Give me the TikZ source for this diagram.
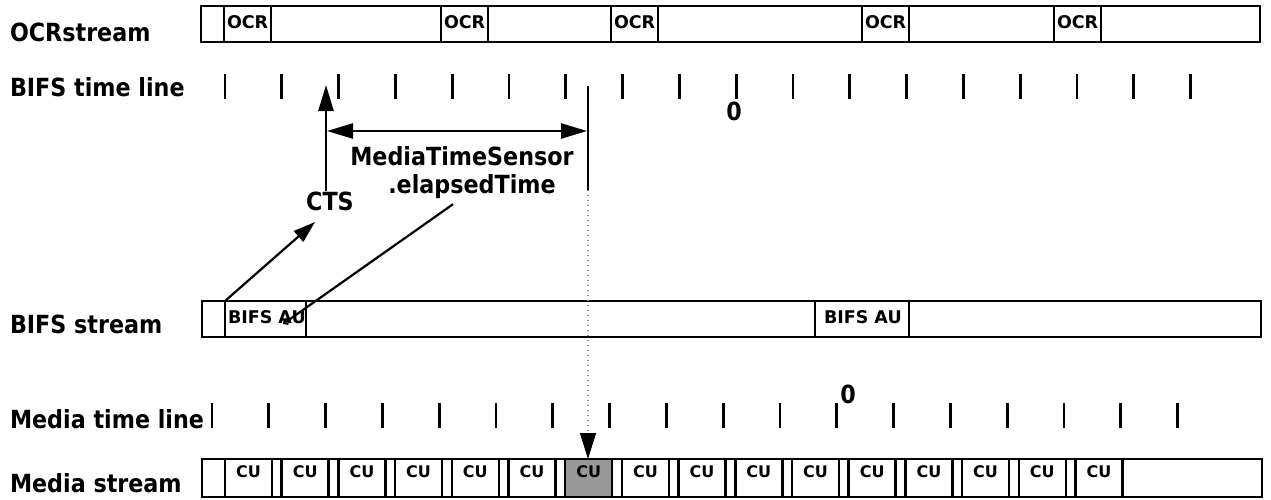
\documentclass[tikz,border=0pt]{standalone}
\usepackage{fontspec}
\setmainfont{DejaVu Sans}
\newfontfamily\narrowsans{DejaVu Sans}[FakeStretch=0.89]
\usetikzlibrary{arrows.meta}
\definecolor{cugray}{RGB}{152,152,152}
\definecolor{dotgray}{RGB}{140,140,140}

\begin{document}
\begin{tikzpicture}[x=1pt, y=-1pt,
  big/.style={font=\narrowsans\bfseries\fontsize{25}{29}\selectfont, inner sep=0, outer sep=0},
  rowlabel/.style={big, anchor=base west},
  tag/.style={font=\bfseries\fontsize{17.5}{20}\selectfont, inner sep=0, outer sep=0, anchor=base west},
  cutag/.style={font=\bfseries\fontsize{16}{19}\selectfont, inner sep=0, outer sep=0, anchor=base},
  frame/.style={draw, line width=2.5pt, inner sep=0, outer sep=0, anchor=north west},
  tick/.style={line width=2.8pt},
  arr/.style={line width=2.5pt, -{Triangle[length=26pt,width=15pt]}},
  darr/.style={line width=2.5pt, {Triangle[length=26pt,width=15pt]}-{Triangle[length=26pt,width=15pt]}},
  dots/.style={dotgray, line width=1.4pt, dash pattern=on 1.4pt off 3.6pt},
]
\useasboundingbox (0,0) rectangle (1271,499);

% row labels
\node[rowlabel] (lOCR)   at (10,41)  {OCRstream};
\node[rowlabel] (lBTL)   at (10,96)  {BIFS time line};
\node[rowlabel] (lBS)    at (10,333) {BIFS stream};
\node[rowlabel] (lMTL)   at (10,428) {Media time line};
\node[rowlabel] (lMS)    at (10,492) {Media stream};

% OCR stream with its OCR packets
\node[frame, minimum width=1059pt, minimum height=36pt] (ocrstream) at (201,6) {};
\foreach \x [count=\i] in {224,441,611,862,1054} {
  \node[frame, minimum width=47pt, minimum height=36pt] (ocr\i) at (\x,6) {};
  \node[tag] at ([xshift=3pt,yshift=-22pt]ocr\i.north west) {OCR};
}

% BIFS time line
\foreach \i in {0,...,17} {
  \draw[tick] ({225+\i*56.8},74) -- ++(0,25);
}
\node[big] (zeroB) at (734,111) {0};

% elapsed time marker
\coordinate (elTop) at (588,86);
\coordinate (elBot) at (588,190);
\draw[tick] (elTop) -- (elBot);

% CTS
\node[big, anchor=base] (cts) at (330,210) {CTS};
\coordinate (ctsTip) at (326,85);
\draw[arr] (cts.north -| ctsTip) -- (ctsTip);

% MediaTimeSensor.elapsedTime span
\coordinate (spanL) at (327,131);
\coordinate (spanR) at (587,131);
\draw[darr] (spanL) -- (spanR);
\node[big, anchor=base] (mts) at (462,165) {MediaTimeSensor};
\node[big, anchor=base] (elt) at (472,193) {.elapsedTime};

% BIFS stream with its access units
\node[frame, minimum width=1059pt, minimum height=36pt] (bifsstream) at (202,301) {};
\node[frame, minimum width=81pt, minimum height=36pt] (au1) at (225,301) {};
\node[tag] at ([xshift=3pt,yshift=-22pt]au1.north west) {BIFS AU};
\node[frame, minimum width=94pt, minimum height=36pt] (au2) at (815,301) {};
\node[tag] at ([xshift=9pt,yshift=-22pt]au2.north west) {BIFS AU};

% links from the first access unit
\coordinate (ctsFoot) at (315,222);
\draw[line width=2.2pt, -{Triangle[length=22pt,width=14pt]}] (au1.north west) -- (ctsFoot);
\coordinate (auMark) at (283,324);
\draw[line width=2.2pt, -{Straight Barb[length=3pt,width=6pt]}] ([xshift=-19pt,yshift=-6pt]elt.south) -- (auMark);

% Media time line
\foreach \i in {0,...,17} {
  \draw[tick] ({212+\i*56.8},403) -- ++(0,25);
}
\node[big] (zeroM) at (848,394) {0};

% Media stream with its composition units
\node[frame, minimum width=1060pt, minimum height=38pt] (mediastream) at (202,459) {};
\foreach \i in {0,...,15} {
  \ifnum\i=6
    \node[frame, fill=cugray, minimum width=47pt, minimum height=38pt] (cu\i) at ({225+\i*56.7},459) {};
  \else
    \node[frame, minimum width=47pt, minimum height=38pt] (cu\i) at ({225+\i*56.7},459) {};
  \fi
  \node[cutag] at ([yshift=-18pt]cu\i.north) {CU};
}

% projection of the elapsed time onto the media stream
\coordinate (dotEnd) at (588,433);
\draw[dots] (elBot) -- (dotEnd);
\draw[line width=1pt, -{Triangle[length=26pt,width=16pt]}] (dotEnd) -- (dotEnd |- cu6.north);
\end{tikzpicture}
\end{document}
